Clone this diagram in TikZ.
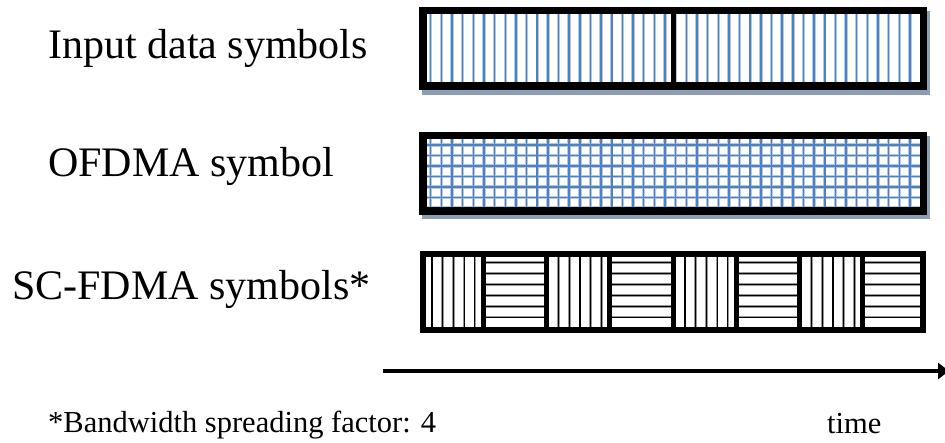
\documentclass[tikz,border=0pt]{standalone}
\usepackage{fontspec}
\setmainfont{Liberation Serif}
\usetikzlibrary{arrows.meta}
\definecolor{stripeblue}{RGB}{79,129,189}
\definecolor{halo}{RGB}{178,199,228}
\definecolor{shadowc}{RGB}{140,158,180}
\definecolor{grayhalo}{RGB}{150,150,150}
\tikzset{
  framebox/.style={draw=black, line width=7.5pt, minimum width=500.5pt, minimum height=75.5pt, inner sep=0pt},
  scbox/.style={draw=black, line width=6pt, minimum width=500pt, minimum height=76pt, inner sep=0pt},
  shadowbox/.style={fill=shadowc, draw=none},
  lbl/.style={anchor=base west, font=\fontsize{42}{50}\selectfont, inner sep=0pt},
  note/.style={anchor=base west, font=\fontsize{30.5}{36}\selectfont, inner sep=0pt},
  bhalo/.style={draw=halo, line width=3.4pt},
  bcore/.style={draw=stripeblue, line width=1.5pt},
  khalo/.style={draw=grayhalo, line width=2.6pt},
  kcore/.style={draw=black, line width=1.2pt},
  divider/.style={draw=black, line width=5pt},
  timeline/.style={draw=black, line width=4pt, -{Triangle[length=11pt,width=16pt]}},
}
\begin{document}
\begin{tikzpicture}[x=1pt,y=-1pt]
\useasboundingbox (0,0) rectangle (945,443);
% labels
\node[lbl] (l1) at (48,58.5) {Input data symbols};
\node[lbl] (l2) at (48,177) {OFDMA symbol};
\node[lbl] (l3) at (12,300) {SC-FDMA symbols*};
% shadows
\fill[shadowbox] (422,11) rectangle (930,95);
\fill[shadowbox] (422,136) rectangle (930,219);
% box 1 : input data symbols
\fill[white] (419,7) rectangle (927,90);
\foreach \i in {0,...,45} {
  \draw[bhalo] (430.7+10.65*\i,12) -- (430.7+10.65*\i,85);
  \draw[bcore] (430.7+10.65*\i,12) -- (430.7+10.65*\i,85);
}
\node[framebox] (b1) at (673,48.5) {};
\draw[divider] (b1.north) -- (b1.south);
% box 2 : OFDMA symbol
\fill[white] (419,132) rectangle (927,215);
\foreach \i in {0,...,45} {
  \draw[bhalo] (430.7+10.65*\i,136) -- (430.7+10.65*\i,211);
}
\foreach \j in {0,...,6} {
  \draw[bhalo] (423,145+10.5*\j) -- (923,145+10.5*\j);
}
\foreach \i in {0,...,45} {
  \draw[bcore] (430.7+10.65*\i,136) -- (430.7+10.65*\i,211);
}
\foreach \j in {0,...,6} {
  \draw[bcore] (423,145+10.5*\j) -- (923,145+10.5*\j);
}
\node[framebox] (b2) at (673,173.5) {};
% box 3 : SC-FDMA symbols
\fill[white] (420,251) rectangle (926,333);
\foreach \s in {0,2,4,6} {
  \foreach \k in {0,...,4} {
    \draw[khalo] (432+63.25*\s+10.7*\k,254) -- (432+63.25*\s+10.7*\k,330);
    \draw[kcore] (432+63.25*\s+10.7*\k,254) -- (432+63.25*\s+10.7*\k,330);
  }
}
\foreach \s in {1,3,5,7} {
  \foreach \k in {0,...,5} {
    \draw[khalo] (420+63.25*\s,262.7+10.9*\k) -- (420+63.25*\s+63.25,262.7+10.9*\k);
    \draw[kcore] (420+63.25*\s,262.7+10.9*\k) -- (420+63.25*\s+63.25,262.7+10.9*\k);
  }
}
\node[scbox] (b3) at (673,292) {};
\foreach \s in {1,...,7} {
  \coordinate (t\s) at (420+63.25*\s,251);
  \coordinate (u\s) at (420+63.25*\s,333);
  \draw[divider] (t\s) -- (u\s);
}
% time axis
\coordinate (ta) at (383,371);
\coordinate (tb) at (949,371);
\draw[timeline] (ta) -- (tb);
\node[note] (fn) at (48,432) {*Bandwidth spreading factor: 4};
\node[note] (tm) at (827,433) {time};
\end{tikzpicture}
\end{document}
